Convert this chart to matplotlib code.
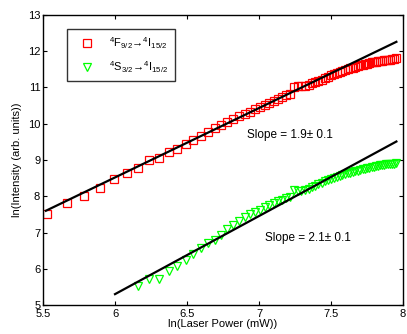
import matplotlib
matplotlib.use("Agg")
import matplotlib.pyplot as plt

plt.rcParams["font.family"] = ["Liberation Sans", "DejaVu Sans"]
plt.rcParams["mathtext.default"] = "regular"

# ln(laser power) grid shared by both series
x_vals = [5.529, 5.666, 5.787, 5.894, 5.991, 6.080, 6.161, 6.236, 6.306, 6.372,
          6.433, 6.491, 6.545, 6.597, 6.646, 6.693, 6.738, 6.781, 6.822, 6.862,
          6.900, 6.936, 6.972, 7.006, 7.039, 7.071, 7.102, 7.132, 7.161, 7.189,
          7.217, 7.244, 7.270, 7.295, 7.320, 7.344, 7.368, 7.391, 7.413, 7.435,
          7.457, 7.478, 7.499, 7.519, 7.539, 7.559, 7.578, 7.596, 7.615, 7.633,
          7.651, 7.668, 7.685, 7.702, 7.719, 7.735, 7.751, 7.767, 7.782, 7.798,
          7.813, 7.828, 7.842, 7.857, 7.871, 7.885, 7.899, 7.912, 7.926, 7.939,
          7.952]

red_y = [7.52, 7.82, 8.01, 8.24, 8.48, 8.64, 8.78, 8.99, 9.06, 9.22,
         9.29, 9.43, 9.55, 9.66, 9.78, 9.89, 9.96, 10.05, 10.13, 10.21,
         10.27, 10.33, 10.40, 10.47, 10.52, 10.58, 10.64, 10.69, 10.74, 10.78,
         10.82, 11.02, 11.05, 11.03, 11.05, 11.08, 11.12, 11.15, 11.18, 11.22,
         11.26, 11.30, 11.34, 11.37, 11.40, 11.43, 11.45, 11.48, 11.50, 11.53,
         11.55, 11.57, 11.59, 11.61, 11.63, 11.65, 11.66, 11.68, 11.69, 11.70,
         11.71, 11.72, 11.73, 11.74, 11.75, 11.76, 11.77, 11.77, 11.78, 11.79,
         11.80]

# green series starts at the 7th power step
green_x = x_vals[6:]
green_y = [5.52, 5.72, 5.73, 5.95, 6.07, 6.23, 6.42, 6.56, 6.70, 6.80,
           6.93, 7.10, 7.22, 7.32, 7.42, 7.50, 7.56, 7.62, 7.70, 7.76,
           7.82, 7.86, 7.90, 7.95, 7.98, 8.16, 8.15, 8.14, 8.18, 8.21,
           8.25, 8.29, 8.33, 8.37, 8.41, 8.44, 8.47, 8.50, 8.53, 8.56,
           8.58, 8.61, 8.63, 8.65, 8.67, 8.69, 8.71, 8.73, 8.75, 8.76,
           8.78, 8.79, 8.80, 8.81, 8.83, 8.84, 8.85, 8.86, 8.87, 8.88,
           8.88, 8.89, 8.90, 8.90, 8.92]

# linear fits (end points)
red_fit_x = [5.52, 7.954]
red_fit_y = [7.60, 12.26]
green_fit_x = [6.0, 7.954]
green_fit_y = [5.30, 9.51]

fig = plt.figure(figsize=(4.07, 3.34), dpi=100)
ax = fig.add_axes([0.1057, 0.0868, 0.8845, 0.8683])

ax.plot(x_vals, red_y, linestyle="none", marker="s", markersize=5.8,
        markerfacecolor="none", markeredgecolor="#ff0000", markeredgewidth=0.9,
        label=r"$^4$F$_{9/2}$→$^4$I$_{15/2}$")
ax.plot(green_x, green_y, linestyle="none", marker="v", markersize=6.2,
        markerfacecolor="none", markeredgecolor="#00ff00", markeredgewidth=0.9,
        label=r"$^4$S$_{3/2}$→$^4$I$_{15/2}$")
ax.plot(red_fit_x, red_fit_y, color="black", linewidth=1.6)
ax.plot(green_fit_x, green_fit_y, color="black", linewidth=1.6)

ax.text(6.92, 9.69, "Slope = 1.9± 0.1", fontsize=8.5, va="center", ha="left")
ax.text(7.04, 6.84, "Slope = 2.1± 0.1", fontsize=8.5, va="center", ha="left")

ax.set_xlim(5.5, 8)
ax.set_ylim(5, 13)
ax.set_xticks([5.5, 6, 6.5, 7, 7.5, 8])
ax.set_xticklabels(["5.5", "6", "6.5", "7", "7.5", "8"])
ax.set_yticks(range(5, 14))
ax.tick_params(direction="in", top=True, right=True, length=3, labelsize=8, pad=2)
ax.tick_params(axis="x", pad=3)
for s in ax.spines.values():
    s.set_linewidth(1.0)

ax.set_xlabel("ln(Laser Power (mW))", fontsize=8, labelpad=0)
ax.set_ylabel("ln(Intensity (arb. units))", fontsize=8, labelpad=4)

leg = ax.legend(loc="upper left", bbox_to_anchor=(0.067, 0.952), fontsize=8,
                frameon=True, fancybox=False, edgecolor="black",
                borderaxespad=0, handlelength=2.4, borderpad=0.6,
                labelspacing=0.7)
leg.get_frame().set_linewidth(1.0)

fig.savefig("out.png", dpi=100)
